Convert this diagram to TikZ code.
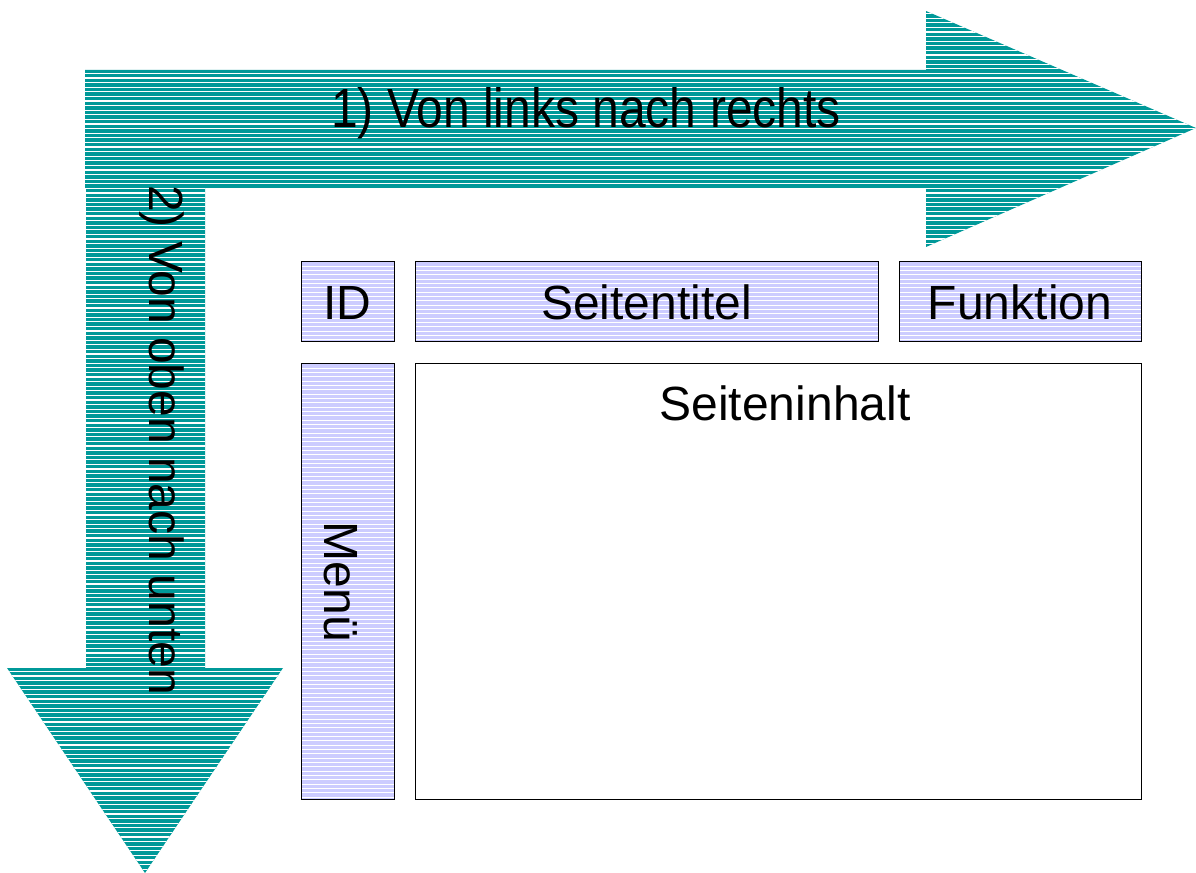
\documentclass[tikz,border=0pt]{standalone}
\usepackage{fontspec}
\setmainfont{Liberation Sans}
\usetikzlibrary{calc}
\definecolor{arrowteal}{RGB}{0,153,153}
\definecolor{lav}{RGB}{204,204,255}
\tikzset{
  stripebox/.style={draw=black, line width=1.1pt, fill=lav, inner sep=0pt, anchor=north west,
    path picture={\foreach \k in {1,...,110}{\draw[white,line width=0.75pt]
      ([yshift=-\k*3.25pt]path picture bounding box.north west) --
      ([yshift=-\k*3.25pt]path picture bounding box.north east);}}},
  plainbox/.style={draw=black, line width=1.1pt, fill=white, inner sep=0pt, anchor=north west},
  lbl/.style={font=\fontsize{36}{40}\selectfont, inner sep=0pt, anchor=base},
  stripeline/.style={white, line width=0.85pt},
}
\begin{document}
\begin{tikzpicture}[x=0.75pt,y=-0.75pt]
\useasboundingbox (0,0) rectangle (1196,873);
% right arrow
\begin{scope}
  \clip (85,70) -- (926,70) -- (926,11) -- (1196,128) -- (926,247) -- (926,188) -- (85,188) -- cycle;
  \fill[arrowteal] (0,0) rectangle (1196,873);
  \foreach \k in {0,...,60} \draw[stripeline] (0,{4.4+4.6*\k}) -- (1196,{4.4+4.6*\k});
\end{scope}
% down arrow
\begin{scope}
  \clip (86,188) -- (205,188) -- (205,668) -- (283,668) -- (145,873) -- (7,668) -- (86,668) -- cycle;
  \fill[arrowteal] (0,0) rectangle (1196,873);
  \foreach \k in {38,...,190} \draw[stripeline] (0,{4.4+4.6*\k}) -- (1196,{4.4+4.6*\k});
\end{scope}
\node[lbl] (t1) at (586,128) {\scalebox{1}[1.15]{1) Von links nach rechts}};
\node[lbl, rotate=-90] (t2) at (149,440) {2) Von oben nach unten};
% boxes
\node[stripebox, minimum width=69.75pt, minimum height=60pt] (id) at (301,261) {};
\node[stripebox, minimum width=347.25pt, minimum height=60pt] (titel) at (415,261) {};
\node[stripebox, minimum width=181.5pt, minimum height=60pt] (funk) at (899,261) {};
\node[stripebox, minimum width=69.75pt, minimum height=327pt] (menu) at (301,363) {};
\node[plainbox, minimum width=544.5pt, minimum height=327pt] (inhalt) at (415,363) {};
\node[lbl] (idt) at (347.5,320) {ID};
\node[lbl] (titelt) at (646.5,320) {Seitentitel};
\node[lbl] (funkt) at (1020,320) {Funktion};
\node[lbl, rotate=-90] (menut) at (324,582) {Menü};
\node[lbl] (inhaltt) at (785,421) {Seiteninhalt};
\end{tikzpicture}
\end{document}
